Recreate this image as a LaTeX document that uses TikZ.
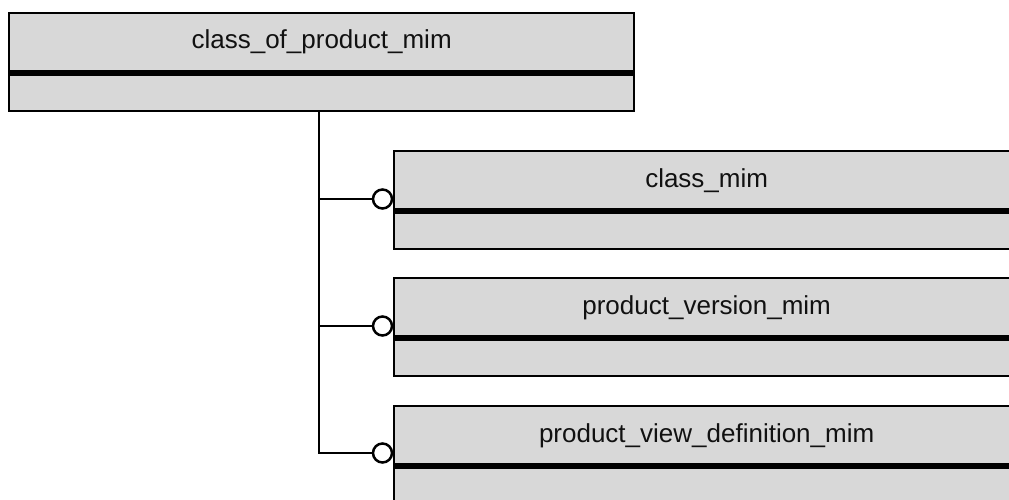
\documentclass[tikz,border=0pt]{standalone}
\usepackage{fontspec}
\setmainfont{Liberation Sans}
\definecolor{boxgray}{RGB}{216,216,216}
\definecolor{ink}{RGB}{17,17,17}
\tikzset{
  entity/.style={draw=black, line width=2.3pt, fill=boxgray, rectangle,
    minimum width=625pt, minimum height=98pt, anchor=north west, inner sep=0pt},
  divider/.style={line width=6pt},
  etitle/.style={anchor=base, inner sep=0pt, text=ink, font=\fontsize{26}{30}\selectfont},
  conn/.style={line width=2pt},
  ring/.style={circle, draw=black, line width=2.5pt, fill=white,
    minimum size=19pt, inner sep=0pt}
}
\begin{document}
\begin{tikzpicture}[x=1pt,y=-1pt]
\useasboundingbox (0,0) rectangle (1009,500);
\clip (0,0) rectangle (1009,500);
\fill[white] (0,0) rectangle (1009,500);

% entity boxes
\node[entity] (top) at (8,12) {};
\node[entity] (b1) at (393,150) {};
\node[entity] (b2) at (393,277) {};
\node[entity] (b3) at (393,405) {};

% dividers
\foreach \n in {top,b1,b2,b3}{
  \draw[divider] ([yshift=-61pt]\n.north west) -- ([yshift=-61pt]\n.north east);
}

% titles
\node[etitle] (ttop) at ([yshift=-37pt]top.north) {class\_of\_product\_mim};
\node[etitle] (t1) at ([yshift=-37pt]b1.north) {class\_mim};
\node[etitle] (t2) at ([yshift=-37pt]b2.north) {product\_version\_mim};
\node[etitle] (t3) at ([yshift=-37pt]b3.north) {product\_view\_definition\_mim};

% rings at the child boxes
\node[ring] (c1) at ([xshift=-10.5pt,yshift=-49pt]b1.north west) {};
\node[ring] (c2) at ([xshift=-10.5pt,yshift=-49pt]b2.north west) {};
\node[ring] (c3) at ([xshift=-10.5pt,yshift=-48pt]b3.north west) {};

% connectors
\coordinate (j0) at ([xshift=-2.5pt]top.south);
\draw[conn] (j0) |- (c3.west);
\draw[conn] (j0 |- c1) -- (c1.west);
\draw[conn] (j0 |- c2) -- (c2.west);
\end{tikzpicture}
\end{document}
